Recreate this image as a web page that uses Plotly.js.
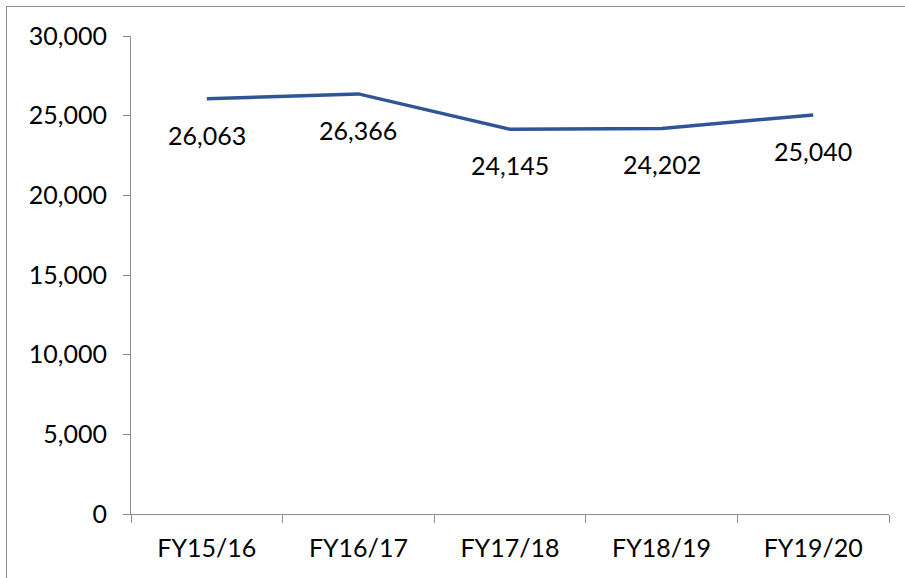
<!DOCTYPE html>
<html>
<head>
<meta charset="utf-8">
<script src="https://cdn.plot.ly/plotly-3.0.1.min.js"></script>
<style>
html,body{margin:0;padding:0;background:#fff;overflow:hidden;}
#frame{position:absolute;left:6px;top:6px;width:1200px;height:1200px;border:1.5px solid #8c8c8c;box-sizing:border-box;}
#chart{position:absolute;left:0;top:0;width:905px;height:578px;}
</style>
</head>
<body>
<div id="frame"></div>
<div id="chart"></div>
<script>
const categories = ["FY15/16", "FY16/17", "FY17/18", "FY18/19", "FY19/20"];
const values = [26063, 26366, 24145, 24202, 25040];
const yTicks = [0, 5000, 10000, 15000, 20000, 25000, 30000];

const fontFam = "Lato, 'Open Sans', sans-serif";

const trace = {
  x: categories,
  y: values,
  type: "scatter",
  mode: "lines",
  line: {color: "#2F5597", width: 3.5},
  hoverinfo: "skip"
};

const annotations = categories.map((c, i) => ({
  x: c, y: values[i], xref: "x", yref: "y",
  text: values[i].toLocaleString("en-US"),
  showarrow: false, yshift: -36,
  font: {family: fontFam, size: 25, color: "#000"}
}));

const layout = {
  width: 905, height: 578,
  margin: {l: 131, r: 16, t: 36, b: 64},
  paper_bgcolor: "rgba(0,0,0,0)",
  plot_bgcolor: "rgba(0,0,0,0)",
  showlegend: false,
  xaxis: {
    type: "category",
    range: [-0.5, 4.5],
    tickson: "boundaries",
    ticks: "outside", ticklen: 8, tickcolor: "#8c8c8c", tickwidth: 1,
    showline: true, linecolor: "#8c8c8c", linewidth: 1,
    showgrid: false, zeroline: false,
    ticklabelstandoff: 12,
    tickfont: {family: fontFam, size: 25, color: "#000"}
  },
  yaxis: {
    range: [0, 30000],
    tickvals: yTicks,
    tickformat: ",",
    ticks: "outside", ticklen: 7, tickcolor: "#8c8c8c", tickwidth: 1,
    showline: true, linecolor: "#8c8c8c", linewidth: 1,
    showgrid: false, zeroline: false,
    ticklabelstandoff: 11,
    tickfont: {family: fontFam, size: 25, color: "#000"}
  },
  annotations: annotations
};

Plotly.newPlot("chart", [trace], layout, {displayModeBar: false, staticPlot: true});
</script>
</body>
</html>
